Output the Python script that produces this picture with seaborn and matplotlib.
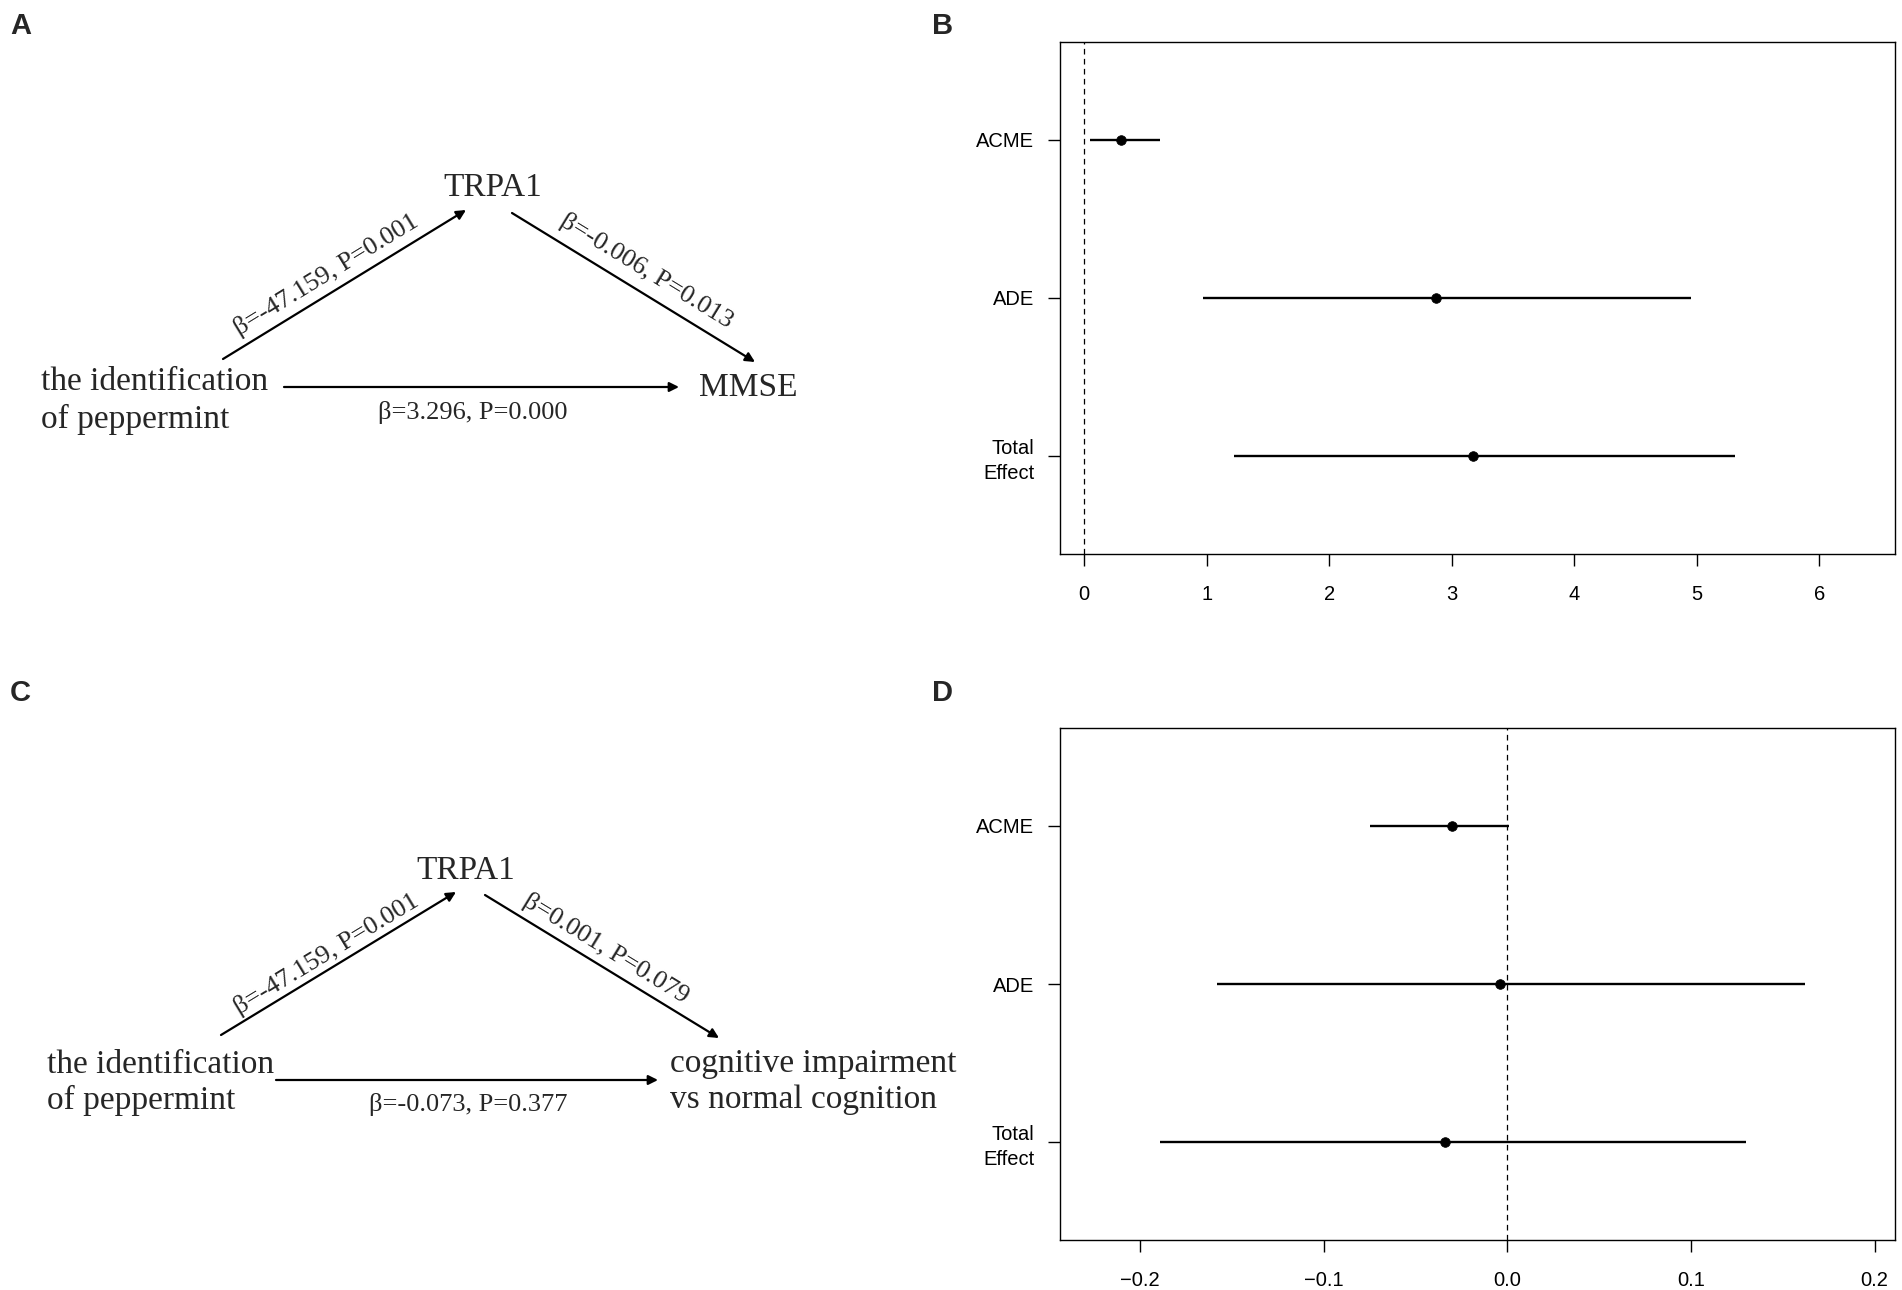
import numpy as np
import pandas as pd
import matplotlib
matplotlib.use("Agg")
import matplotlib.pyplot as plt
import seaborn as sns

# ---------------- data ----------------
effects = ["ACME", "ADE", "Total Effect"]
effect_tick_labels = ["ACME", "ADE", "Total\nEffect"]

b_est = [0.30, 2.87, 3.17]
b_lo = [0.05, 0.97, 1.22]
b_hi = [0.62, 4.95, 5.31]
b_xticks = [0, 1, 2, 3, 4, 5, 6]

d_est = [-0.030, -0.004, -0.034]
d_lo = [-0.0746, -0.158, -0.189]
d_hi = [0.001, 0.162, 0.130]
d_xticks = [-0.2, -0.1, 0.0, 0.1, 0.2]

diagram_A = {
    "mediator": "TRPA1",
    "exposure": "the identification\nof peppermint",
    "outcome": "MMSE",
    "path_a": "β=-47.159, P=0.001",
    "path_b": "β=-0.006, P=0.013",
    "path_c": "β=3.296, P=0.000",
}
diagram_C = {
    "mediator": "TRPA1",
    "exposure": "the identification\nof peppermint",
    "outcome": "cognitive impairment\nvs normal cognition",
    "path_a": "β=-47.159, P=0.001",
    "path_b": "β=0.001, P=0.079",
    "path_c": "β=-0.073, P=0.377",
}

# ---------------- style ----------------
sns.set_theme(style="ticks")
plt.rcParams["font.family"] = ["Liberation Sans", "DejaVu Sans"]

W, H = 1902, 1290
fig = plt.figure(figsize=(W / 100, H / 100), dpi=100)
fig.patch.set_facecolor("white")

# full-figure overlay in pixel coordinates for the path diagrams
bg = fig.add_axes([0, 0, 1, 1], zorder=0)
bg.set_xlim(0, W)
bg.set_ylim(H, 0)
bg.axis("off")
bg.patch.set_alpha(0)

SERIF = ["Liberation Serif", "DejaVu Serif"]


def draw_diagram(ax, d, lay):
    fs_main = 24
    fs_lab = 19
    ax.text(*lay["med"], d["mediator"], ha="center", va="center",
            fontsize=fs_main, family=SERIF)
    ax.text(*lay["exp"], d["exposure"], ha="left", va="center",
            fontsize=fs_main, family=SERIF, linespacing=lay["ls"])
    ax.text(*lay["out"], d["outcome"], ha="left", va="center",
            fontsize=fs_main, family=SERIF, linespacing=lay["ls"])
    aprops = dict(arrowstyle="-|>", lw=1.6, color="black",
                  mutation_scale=14, shrinkA=0, shrinkB=0)
    for key in ("arr_a", "arr_b", "arr_c"):
        (x0, y0), (x1, y1) = lay[key]
        ax.annotate("", xy=(x1, y1), xytext=(x0, y0), arrowprops=aprops)
    for key, lkey in (("path_a", "lab_a"), ("path_b", "lab_b"), ("path_c", "lab_c")):
        x, y, rot = lay[lkey]
        ax.text(x, y, d[key], ha="center", va="center", rotation=rot,
                rotation_mode="anchor", fontsize=fs_lab, family=SERIF)


layA = {
    "med": (493, 188),
    "exp": (41, 401),
    "out": (699, 388),
    "ls": 1.3,
    "arr_a": ((223, 359), (466, 210)),
    "arr_b": ((512, 213), (755, 362)),
    "arr_c": ((284, 387), (679, 387)),
    "lab_a": (326, 275, 31.5),
    "lab_b": (647, 271, -31.5),
    "lab_c": (473, 413, 0),
}
layC = {
    "med": (466, 871),
    "exp": (47, 1083),
    "out": (670, 1082),
    "ls": 1.22,
    "arr_a": ((221, 1035), (456, 892)),
    "arr_b": ((485, 895), (719, 1038)),
    "arr_c": ((276, 1080), (658, 1080)),
    "lab_a": (326, 954, 31.3),
    "lab_b": (606, 949, -31.4),
    "lab_c": (468, 1104, 0),
}
draw_diagram(bg, diagram_A, layA)
draw_diagram(bg, diagram_C, layC)

# ---------------- forest plots ----------------
def forest(rect, est, lo, hi, xlim, xticks, fmt):
    ax = fig.add_axes(rect, zorder=2)
    n = len(effects)
    ypos = np.arange(n, 0, -1)
    df = pd.DataFrame({"effect": effects, "y": ypos, "est": est, "lo": lo, "hi": hi})
    ax.axvline(0, color="black", lw=0.9, linestyle=(0, (4.5, 3.5)), zorder=1)
    ax.hlines(df["y"], df["lo"], df["hi"], color="black", lw=1.7, zorder=2)
    sns.scatterplot(data=df, x="est", y="y", ax=ax, color="black",
                    edgecolor="black", s=48, zorder=3, legend=False)
    ax.set_xlim(*xlim)
    ax.set_ylim(0.38, 3.62)
    ax.set_yticks(ypos)
    ax.set_yticklabels(effect_tick_labels, ha="right", linespacing=1.4)
    ax.set_xticks(xticks)
    ax.set_xticklabels([fmt.format(v).replace("-", "\u2212") for v in xticks])
    ax.set_xlabel("")
    ax.set_ylabel("")
    ax.set_facecolor("white")
    for s in ax.spines.values():
        s.set_visible(True)
        s.set_linewidth(1.0)
        s.set_color("black")
    ax.tick_params(axis="both", direction="out", length=8.6, width=1.0,
                   color="black", labelsize=14.5, labelcolor="black")
    ax.tick_params(axis="y", pad=10)
    ax.tick_params(axis="x", pad=14)
    ax.grid(False)
    return ax


left = 1060 / W
width = (1894.6 - 1060) / W
forest([left, 1 - 553.5 / H, width, (553.5 - 42) / H],
       b_est, b_lo, b_hi, (-0.198, 6.614), b_xticks, "{:d}")
forest([left, 1 - 1240 / H, width, (1240 - 728) / H],
       d_est, d_lo, d_hi, (-0.2436, 0.2109), d_xticks, "{:.1f}")

# panel letters
for lab, (x, y) in {"A": (10, 12), "B": (932, 12), "C": (10, 679), "D": (932, 679)}.items():
    fig.text(x / W, 1 - y / H, lab, ha="left", va="top", fontsize=21,
             fontweight="bold", family=["Liberation Sans", "DejaVu Sans"])

fig.savefig("out.png", dpi=100, facecolor="white")
